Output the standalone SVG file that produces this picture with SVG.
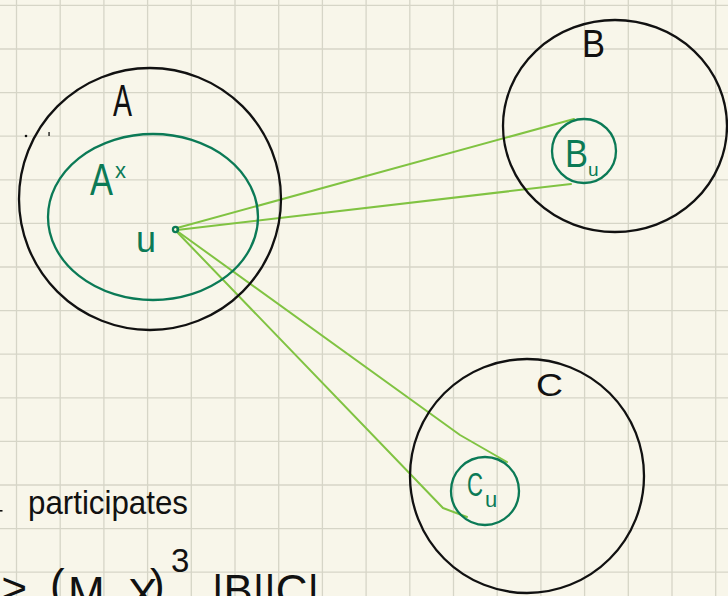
<svg xmlns="http://www.w3.org/2000/svg" width="728" height="596" viewBox="0 0 728 596">
<style>
.bk{fill:none;stroke:#111;stroke-width:2.3}
.dg{fill:none;stroke:#0b7a56;stroke-width:2.3}
.lg{fill:none;stroke:#80c342;stroke-width:2;stroke-linecap:round;stroke-linejoin:round}
.t{font-family:"Liberation Sans",Arial,sans-serif;fill:#111}
.tg{font-family:"Liberation Sans",Arial,sans-serif;fill:#0b7a56}
</style>
<rect width="728" height="596" fill="#f8f6ea"/>
<path stroke="#d6d5c7" stroke-width="1.3" fill="none" d="M16.5 0V596M60.2 0V596M103.9 0V596M147.6 0V596M191.3 0V596M235 0V596M278.7 0V596M322.4 0V596M366.1 0V596M409.8 0V596M453.5 0V596M497.2 0V596M540.9 0V596M584.6 0V596M628.3 0V596M672 0V596M715.7 0V596M0 5.4H728M0 49H728M0 92.6H728M0 136.2H728M0 179.8H728M0 223.4H728M0 267H728M0 310.6H728M0 354.2H728M0 397.8H728M0 441.4H728M0 485H728M0 528.6H728M0 572.2H728"/>
<g id="marks" fill="#111">
<circle cx="26" cy="136" r="1.3"/>
<rect x="48.4" y="132" width="1.3" height="4"/>
<rect x="0" y="510" width="2.5" height="1.6"/>
</g>
<g id="connectors">
<path class="lg" d="M177 228L574 119"/>
<path class="lg" d="M177 230L571 184"/>
<path class="lg" d="M177 231L460 435L507 462"/>
<path class="lg" d="M177 232L443 508L467 517"/>
</g>
<g id="A">
<circle class="bk" cx="150" cy="199" r="131"/>
<text class="t" x="113" y="116" font-size="44" textLength="19" lengthAdjust="spacingAndGlyphs">A</text>
</g>
<g id="Astar">
<ellipse class="dg" cx="153" cy="217" rx="105" ry="83"/>
<text class="tg" x="90" y="195" font-size="44" textLength="23" lengthAdjust="spacingAndGlyphs">A</text>
<text class="tg" x="115" y="178" font-size="22">x</text>
</g>
<g id="u">
<circle fill="none" stroke="#0b7a56" stroke-width="2.2" cx="175.5" cy="229.5" r="2.6"/>
<text class="tg" x="136" y="252" font-size="36">u</text>
</g>
<g id="B">
<ellipse class="bk" cx="615" cy="126" rx="112" ry="106"/>
<text class="t" x="582" y="57" font-size="38" textLength="23" lengthAdjust="spacingAndGlyphs">B</text>
</g>
<g id="Bu">
<circle class="dg" cx="584" cy="151" r="32"/>
<text class="tg" x="565" y="167" font-size="38" textLength="23" lengthAdjust="spacingAndGlyphs">B</text>
<text class="tg" x="588" y="176" font-size="19">u</text>
</g>
<g id="C">
<circle class="bk" cx="527" cy="476" r="117"/>
<text class="t" x="536" y="396" font-size="32" textLength="27" lengthAdjust="spacingAndGlyphs">C</text>
</g>
<g id="Cu">
<circle class="dg" cx="485" cy="491" r="34"/>
<text class="tg" x="467" y="496" font-size="34" textLength="16" lengthAdjust="spacingAndGlyphs">C</text>
<text class="tg" x="485" y="507" font-size="22">u</text>
</g>
<g id="notes">
<text class="t" x="28" y="514" font-size="33" textLength="160" lengthAdjust="spacingAndGlyphs">participates</text>
<text class="t" x="2" y="604" font-size="44">≥</text>
<text class="t" x="50" y="600" font-size="44">(</text>
<text class="t" x="68" y="608" font-size="44">M</text>
<text class="t" x="128" y="610" font-size="44">X</text>
<text class="t" x="150" y="600" font-size="44">)</text>
<text class="t" x="171" y="572" font-size="33">3</text>
<text class="t" x="212" y="606" font-size="44">|B||C|</text>
</g>
</svg>
